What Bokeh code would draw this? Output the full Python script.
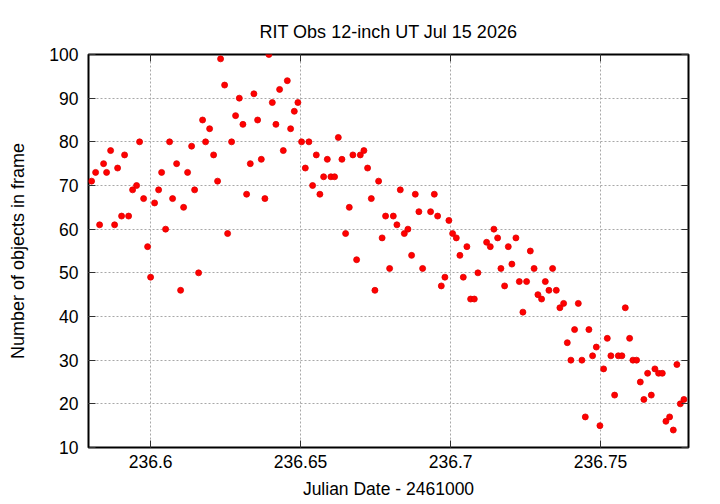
from bokeh.plotting import figure
from bokeh.models import LinearAxis, FixedTicker, Range1d, CustomJSTickFormatter
from bokeh.embed import file_html
from bokeh.resources import INLINE

jd = [236.58033, 236.58167, 236.58300, 236.58433, 236.58533, 236.58667, 236.58800, 236.58900, 236.59033, 236.59133,
      236.59267, 236.59400, 236.59533, 236.59633, 236.59767, 236.59900, 236.60000, 236.60133, 236.60267, 236.60367,
      236.60500, 236.60633, 236.60733, 236.60867, 236.61000, 236.61100, 236.61233, 236.61367, 236.61467, 236.61600,
      236.61733, 236.61833, 236.61967, 236.62100, 236.62233, 236.62333, 236.62467, 236.62567, 236.62700, 236.62833,
      236.62957, 236.63077, 236.63200, 236.63323, 236.63443, 236.63567, 236.63690, 236.63810, 236.63943, 236.64057,
      236.64177, 236.64300, 236.64423, 236.64557, 236.64667, 236.64790, 236.64910, 236.65033, 236.65157, 236.65277,
      236.65400, 236.65523, 236.65643, 236.65767, 236.65890, 236.66010, 236.66133, 236.66257, 236.66377, 236.66500,
      236.66623, 236.66743, 236.66867, 236.66990, 236.67110, 236.67233, 236.67357, 236.67477, 236.67600, 236.67717,
      236.67833, 236.67967, 236.68090, 236.68210, 236.68323, 236.68457, 236.68577, 236.68700, 236.68823, 236.68943,
      236.69067, 236.69333, 236.69457, 236.69567, 236.69690, 236.69810, 236.69943, 236.70067, 236.70190, 236.70310,
      236.70423, 236.70543, 236.70667, 236.70790, 236.70910,
      236.71200, 236.71323, 236.71443, 236.71567, 236.71677, 236.71800, 236.71923, 236.72043, 236.72177, 236.72290,
      236.72410, 236.72533, 236.72657, 236.72783,
      236.72910, 236.73033, 236.73157, 236.73277, 236.73400, 236.73523, 236.73643, 236.73767, 236.73890, 236.74010,
      236.74133, 236.74257, 236.74377, 236.74490, 236.74610, 236.74733, 236.74857, 236.74977, 236.75100, 236.75223,
      236.75343, 236.75467, 236.75590, 236.75710, 236.75823, 236.75967, 236.76077, 236.76200, 236.76323, 236.76443,
      236.76567, 236.76690, 236.76810, 236.76933, 236.77057, 236.77177, 236.77300, 236.77423, 236.77543, 236.77657,
      236.77777]

counts = [71, 73, 61, 75, 73, 78, 61, 74, 63, 77, 63, 69, 70, 80, 67, 56, 49, 66, 69, 73,
          60, 80, 67, 75, 46, 65, 73, 79, 69, 50, 85, 80, 83, 77, 71, 99, 93, 59, 80, 86,
          90, 84, 68, 75, 91, 85, 76, 67, 100, 89, 84, 92, 78, 94, 83, 87, 89, 80, 74, 80,
          70, 77, 68, 72, 76, 72, 72, 81, 76, 59, 65, 77, 53, 77, 78, 74, 67, 46, 71, 58,
          63, 51, 63, 61, 69, 59, 60, 54, 68, 64, 51, 64, 68, 63, 47, 49, 62, 59, 58, 54,
          49, 56, 44, 44, 50,
          57, 56, 60, 58, 51, 47, 56, 52, 58, 48, 41, 48, 55, 51,
          45, 44, 48, 46, 51, 46, 42, 43, 34, 30, 37, 43, 30, 17, 37, 31, 33, 15, 28, 35,
          31, 22, 31, 31, 42, 35, 30, 30, 25, 21, 27, 22, 28, 27, 27, 16, 17, 14, 29, 20,
          21]

x_ticks = [236.6, 236.65, 236.7, 236.75]
y_ticks = [10, 20, 30, 40, 50, 60, 70, 80, 90, 100]
x_labels = {236.6: "236.6", 236.65: "236.65", 236.7: "236.7", 236.75: "236.75"}

title_text = "RIT Obs 12-inch UT Jul 15 2026"
x_title = "Julian Date - 2461000"
y_title = "Number of objects in frame"

FONT = "Liberation Sans"
FS = "17.5px"

p = figure(frame_width=600, frame_height=393,
           x_range=Range1d(236.5793, 236.7793), y_range=Range1d(10, 100),
           output_backend="svg", toolbar_location=None,
           min_border_left=88, min_border_right=24, min_border_top=54, min_border_bottom=49,
           x_axis_location=None, y_axis_location=None)

p.title.text = title_text
p.title.align = "center"
p.title.text_font = FONT
p.title.text_font_size = "18px"
p.title.text_font_style = "normal"
p.title.text_color = "black"
p.title.standoff = 25

p.outline_line_color = "black"
p.outline_line_width = 2
p.background_fill_color = "white"
p.border_fill_color = "white"

def style_axis(ax, ticks, labels=True):
    ax.ticker = FixedTicker(ticks=ticks, minor_ticks=[])
    ax.major_tick_in = 7
    ax.major_tick_out = 0
    ax.minor_tick_in = 0
    ax.minor_tick_out = 0
    ax.major_tick_line_color = "#303030"
    ax.major_tick_line_width = 1
    ax.axis_line_color = None
    ax.major_label_text_font = FONT
    ax.major_label_text_color = "black"
    ax.axis_label_text_font = FONT
    ax.axis_label_text_font_style = "normal"
    ax.axis_label_text_color = "black"
    if not labels:
        ax.formatter = CustomJSTickFormatter(code="return '';")
        ax.major_label_standoff = 0

xb = LinearAxis(axis_label=x_title)
style_axis(xb, x_ticks)
xb.major_label_overrides = x_labels
xb.major_label_text_font_size = FS
xb.major_label_standoff = 7
xb.axis_label_text_font_size = FS
xb.axis_label_standoff = 8
p.add_layout(xb, "below")

yl = LinearAxis(axis_label=y_title)
style_axis(yl, y_ticks)
yl.major_label_text_font_size = FS
yl.major_label_standoff = 10
yl.axis_label_text_font_size = "18px"
yl.axis_label_standoff = 18
p.add_layout(yl, "left")

xt = LinearAxis()
style_axis(xt, x_ticks, labels=False)
p.add_layout(xt, "above")

yr = LinearAxis()
style_axis(yr, y_ticks, labels=False)
p.add_layout(yr, "right")

p.xgrid.ticker = FixedTicker(ticks=x_ticks)
p.ygrid.ticker = FixedTicker(ticks=y_ticks)
for g in (p.xgrid, p.ygrid):
    g.grid_line_color = "#a8a8a8"
    g.grid_line_dash = "2 2"
    g.grid_line_width = 1

p.scatter(jd, counts, marker="circle", size=6, fill_color="#ff0000", line_color="#e00000", line_width=0.8)

open("out.html", "w").write(file_html(p, INLINE))
